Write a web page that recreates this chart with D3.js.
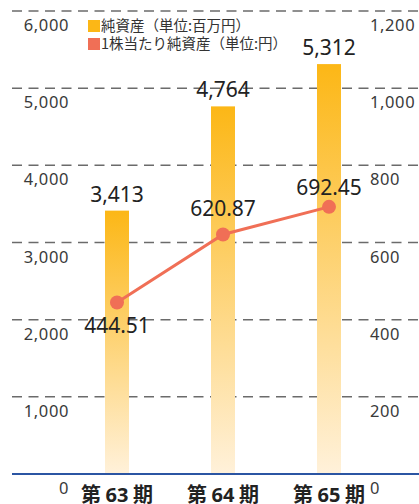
<!DOCTYPE html>
<html lang="ja">
<head>
<meta charset="UTF-8">
<title>純資産</title>
<script src="https://d3js.org/d3.v7.min.js"></script>
<style>
  body { margin: 0; background: #fff; }
  svg { display: block; font-family: "Noto Sans", "Noto Sans CJK JP", sans-serif; }
  .grid line { stroke: #6b6b6b; stroke-width: 1.5; stroke-dasharray: 10 6.5; }
  .tick-label { font-size: 16.5px; fill: #3a3a3a; letter-spacing: 0.6px; }
  .value-label { font-size: 21px; fill: #222; }
  .period { font-size: 20px; font-weight: bold; fill: #222; }
  .legend text { font-size: 14.5px; fill: #333; font-family: "Noto Sans CJK JP", sans-serif; }
</style>
</head>
<body>
<svg width="419" height="504"></svg>
<script>
  // data
  const periods = ["63", "64", "65"];
  const netAssets = [3413, 4764, 5312];          // 百万円
  const perShare = [444.51, 620.87, 692.45];     // 円
  const leftTicks = [0, 1000, 2000, 3000, 4000, 5000, 6000];
  const rightTicks = [0, 200, 400, 600, 800, 1000, 1200];

  const svg = d3.select("svg");
  const plotTop = 11, plotBottom = 474;

  const x = d3.scalePoint().domain(periods).range([117, 329]);
  const yL = d3.scaleLinear().domain([0, 6000]).range([plotBottom, plotTop]);
  const yR = d3.scaleLinear().domain([0, 1200]).range([plotBottom, plotTop]);

  const defs = svg.append("defs");
  const grad = defs.append("linearGradient")
      .attr("id", "barGrad").attr("x1", 0).attr("y1", 0).attr("x2", 0).attr("y2", 1);
  grad.append("stop").attr("offset", "0%").attr("stop-color", "#fcb716");
  grad.append("stop").attr("offset", "100%").attr("stop-color", "#fff1da");

  // gridlines
  svg.append("g").attr("class", "grid")
    .selectAll("line")
    .data(leftTicks.filter(d => d > 0))
    .enter().append("line")
      .attr("x1", 12).attr("x2", 419)
      .attr("y1", d => yL(d)).attr("y2", d => yL(d));

  // left axis labels
  svg.append("g").selectAll("text")
    .data(leftTicks)
    .enter().append("text")
      .attr("class", "tick-label")
      .attr("x", 69)
      .attr("y", d => yL(d) + 20)
      .attr("text-anchor", "end")
      .text(d => d3.format(",")(d));

  // right axis labels
  svg.append("g").selectAll("text")
    .data(rightTicks)
    .enter().append("text")
      .attr("class", "tick-label")
      .attr("x", 370)
      .attr("y", d => yR(d) + 20)
      .text(d => d3.format(",")(d));

  // bars
  const barW = 24;
  svg.append("g").selectAll("rect")
    .data(netAssets)
    .enter().append("rect")
      .attr("x", (d, i) => x(periods[i]) - barW / 2)
      .attr("y", d => yL(d))
      .attr("width", barW)
      .attr("height", d => plotBottom - yL(d))
      .attr("fill", "url(#barGrad)");

  // bar values
  svg.append("g").selectAll("text")
    .data(netAssets)
    .enter().append("text")
      .attr("class", "value-label")
      .attr("x", (d, i) => x(periods[i]))
      .attr("y", d => yL(d) - 9)
      .attr("text-anchor", "middle")
      .text(d => d3.format(",")(d));

  // baseline
  svg.append("line")
    .attr("x1", 12).attr("x2", 419)
    .attr("y1", plotBottom).attr("y2", plotBottom)
    .attr("stroke", "#2b55a3").attr("stroke-width", 2);

  // per share line
  const line = d3.line()
    .x((d, i) => x(periods[i]))
    .y(d => yR(d));

  svg.append("path")
    .datum(perShare)
    .attr("d", line)
    .attr("fill", "none")
    .attr("stroke", "#f06f56")
    .attr("stroke-width", 3);

  svg.append("g").selectAll("circle")
    .data(perShare)
    .enter().append("circle")
      .attr("cx", (d, i) => x(periods[i]))
      .attr("cy", d => yR(d))
      .attr("r", 7)
      .attr("fill", "#f06f56");

  const lineOffsets = [31, -18, -12];
  svg.append("g").selectAll("text")
    .data(perShare)
    .enter().append("text")
      .attr("class", "value-label")
      .attr("x", (d, i) => x(periods[i]))
      .attr("y", (d, i) => yR(d) + lineOffsets[i])
      .attr("text-anchor", "middle")
      .text(d => d3.format(".2f")(d));

  // x labels
  const xl = svg.append("g").selectAll("text")
    .data(periods)
    .enter().append("text")
      .attr("class", "period")
      .attr("x", d => x(d))
      .attr("y", 502)
      .attr("text-anchor", "middle");
  xl.append("tspan").style("font-family", "'Noto Sans CJK JP'").text("第 ");
  xl.append("tspan").text(d => d);
  xl.append("tspan").style("font-family", "'Noto Sans CJK JP'").text(" 期");

  // legend
  const legend = svg.append("g").attr("class", "legend");
  const legendItems = [
    { label: "純資産（単位:百万円）", color: "#fcb716" },
    { label: "1株当たり純資産（単位:円）", color: "#f06f56" }
  ];
  const li = legend.selectAll("g")
    .data(legendItems)
    .enter().append("g")
      .attr("transform", (d, i) => `translate(88,${20 + i * 18})`);
  li.append("rect").attr("width", 12).attr("height", 12).attr("fill", d => d.color);
  li.append("text").attr("x", 13).attr("y", 11).text(d => d.label);
</script>
</body>
</html>
